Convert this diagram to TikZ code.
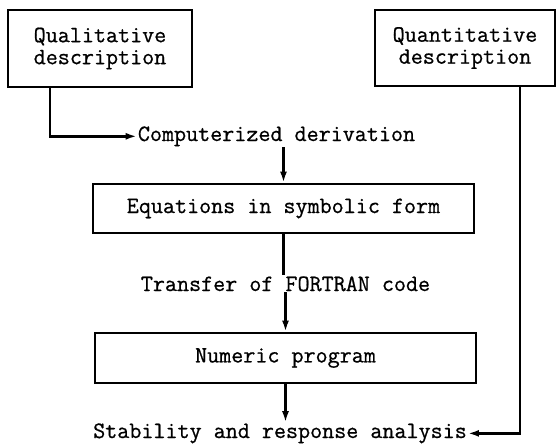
\documentclass[tikz,border=0pt]{standalone}
\usepackage{fontspec}
\newfontfamily\typerfont{Latin Modern Mono}[FakeBold=0.7]
\usetikzlibrary{arrows.meta, positioning, calc}

\tikzset{
  box/.style={draw, line width=2.8pt, minimum width=381pt, minimum height=49pt, inner sep=0pt},
  lbl/.style={inner sep=1pt, anchor=base},
  flow/.style={line width=2.4pt},
  flowto/.style={flow, -{Latex[length=11pt, width=7pt]}}
}

\begin{document}
\begin{tikzpicture}[x=1pt, y=-1pt, font=\typerfont\fontsize{23.4}{22}\selectfont]

\useasboundingbox (0,0) rectangle (557,447);

% === Source descriptions ===
\node[box, minimum width=184pt, minimum height=77pt, align=center] (qual) at (100,48.5) {Qualitative\\description};
\node[box, minimum width=180pt, minimum height=76pt, align=center] (quan) at (465,48) {Quantitative\\description};

% === Main chain ===
\node[lbl] (comp) at (276.5,141) {Computerized derivation};
\node[box] (eqs) at (283.5,208.5) {Equations in symbolic form};
\node[lbl] (xfer) at (285.5,291) {Transfer of FORTRAN code};
\node[box, minimum height=50pt] (num) at (285.5,358) {Numeric program};
\node[lbl] (stab) at (280,438) {Stability and response analysis};

% Connectors
\draw[flowto] ([xshift=-50pt]qual.south) |- (comp.west);
\draw[flowto] (comp.south -| eqs.north) -- (eqs.north);
\draw[flow] (eqs.south) -- (eqs.south |- xfer.north);
\draw[flowto] (xfer.south -| num.north) -- (num.north);
\draw[flowto] (num.south) -- (num.south |- stab.north);
\draw[flowto] ([xshift=55pt]quan.south) |- (stab.east);

\end{tikzpicture}
\end{document}
